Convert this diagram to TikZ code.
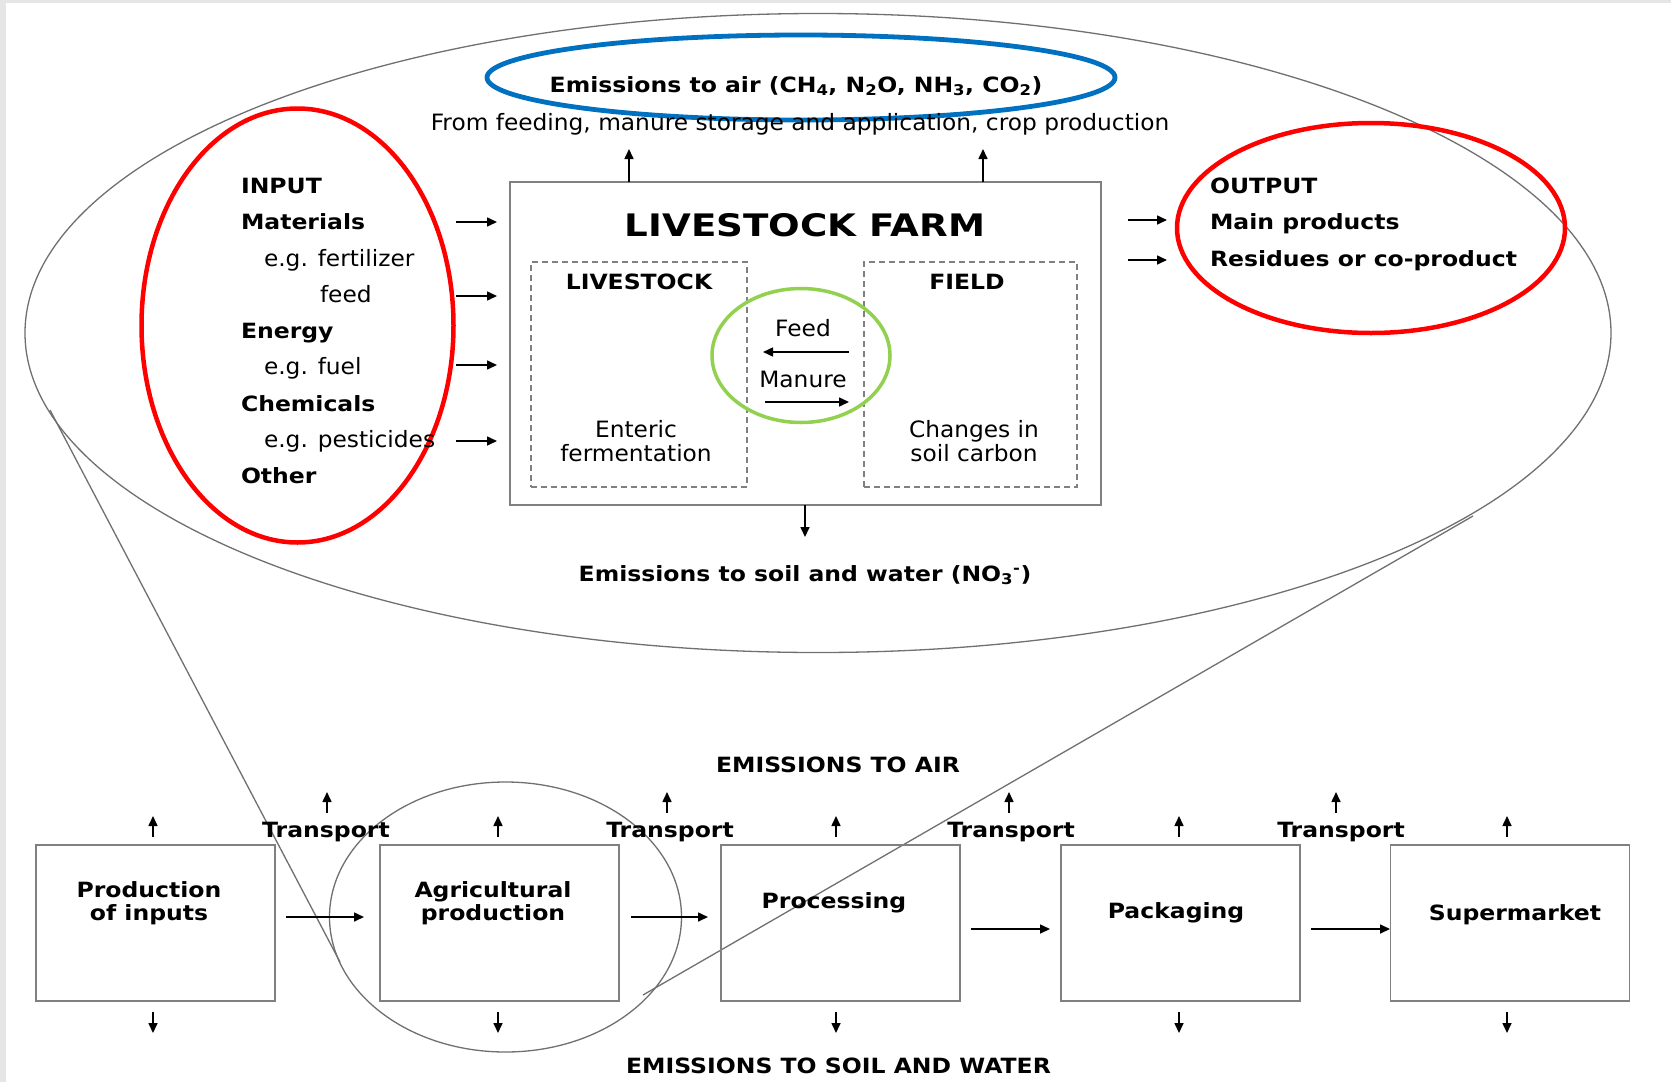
\documentclass[tikz,border=0pt]{standalone}
\usepackage{fontspec}
\setmainfont{DejaVu Sans}[FakeStretch=1.035]
\newfontfamily\bwide{DejaVu Sans}[FakeStretch=1.12]
\newfontfamily\bwider{DejaVu Sans}[FakeStretch=1.2]
\usetikzlibrary{arrows.meta}
\definecolor{bgframe}{HTML}{E6E6E6}
\definecolor{outl}{HTML}{707070}
\definecolor{boxgray}{HTML}{808080}
\definecolor{redc}{HTML}{FF0000}
\definecolor{bluec}{HTML}{0070C0}
\definecolor{greenc}{HTML}{92D050}
\newcommand\fsreg{\fontsize{22.5}{26}\selectfont}
\newcommand\fsbold{\bwide\fontsize{21}{25}\selectfont\bfseries}
\newcommand\fsbig{\bwider\fontsize{31}{36}\selectfont\bfseries}
\tikzset{
  txt/.style={inner sep=0pt, outer sep=0pt, anchor=base, font=\fsreg},
  btxt/.style={txt, font=\fsbold},
  ltxt/.style={txt, anchor=base west},
  lbtxt/.style={btxt, anchor=base west},
  procbox/.style={draw=boxgray, line width=1.6pt, inner sep=0pt, outer sep=0pt, minimum width=239pt, minimum height=156pt},
  dashbox/.style={draw=boxgray, line width=1.3pt, dash pattern=on 6pt off 4pt, inner sep=0pt, outer sep=0pt},
  arr/.style={line width=1.6pt, -{Triangle[length=10pt,width=9pt]}},
  outline/.style={draw=outl, line width=1.3pt},
}
\begin{document}
\begin{tikzpicture}[x=1pt,y=-1pt]
\fill[bgframe] (0,0) rectangle (1671,1082);
\fill[white] (6,3) rectangle (1671,1082);
\useasboundingbox (0,0) rectangle (1671,1082);

% big zoom ellipse and funnel
\draw[outline] (818,333) ellipse [x radius=793pt, y radius=319.5pt];
\draw[outline] (505.5,917) ellipse [x radius=176pt, y radius=135pt];
\coordinate (fl1) at (50,410);
\coordinate (fl2) at (340,962);
\coordinate (fr1) at (1473,516);
\coordinate (fr2) at (643,995);
\draw[outline] (fl1) -- (fl2);
\draw[outline] (fr1) -- (fr2);

% ===== top: livestock farm =====
\node[draw=boxgray, line width=1.6pt, inner sep=0pt, minimum width=591pt, minimum height=323pt] (farm) at (805.5,343.5) {};
\node[dashbox, minimum width=216pt, minimum height=225pt] (lsbox) at (639,374.5) {};
\node[dashbox, minimum width=213pt, minimum height=225pt] (fdbox) at (970.5,374.5) {};

\node[txt, font=\fsbig] (farmtitle) at (805,236) {LIVESTOCK FARM};
\node[btxt] (lstitle) at (639,289) {LIVESTOCK};
\node[btxt] (fdtitle) at (967,289) {FIELD};
\node[txt] (ent1) at (636,437) {Enteric};
\node[txt] (ent2) at (636,461) {fermentation};
\node[txt] (soil1) at (974,437) {Changes in};
\node[txt] (soil2) at (974,461) {soil carbon};
\node[txt] (feedlbl) at (803,336) {Feed};
\node[txt] (manlbl) at (803,387) {Manure};

% green circle
\draw[greenc, line width=3.5pt] (801,355.5) ellipse [x radius=89pt, y radius=67pt];
\coordinate (fa1) at (849,352);
\coordinate (fa2) at (763,352);
\coordinate (ma1) at (765,402);
\coordinate (ma2) at (849,402);
\draw[arr] (fa1) -- (fa2);
\draw[arr] (ma1) -- (ma2);

% emissions to air
\draw[bluec, line width=4.8pt] (801,77.5) ellipse [x radius=314pt, y radius=42.5pt];
\node[btxt] (airtxt) at (796,92) {Emissions to air (CH\textsubscript{4}, N\textsubscript{2}O, NH\textsubscript{3}, CO\textsubscript{2})};
\node[txt] (fromtxt) at (800,130) {From feeding, manure storage and application, crop production};
\coordinate (u1a) at (629,182);
\coordinate (u1b) at (629,149);
\coordinate (u2a) at (983,182);
\coordinate (u2b) at (983,149);
\draw[arr] (u1a) -- (u1b);
\draw[arr] (u2a) -- (u2b);

% emissions to soil
\coordinate (d1a) at (805,505);
\coordinate (d1b) at (805,537);
\draw[arr] (d1a) -- (d1b);
\node[btxt] (soiltxt) at (805,581) {Emissions to soil and water (NO\textsubscript{3}\textsuperscript{-})};

% input
\draw[redc, line width=4.5pt] (297.5,325.5) ellipse [x radius=156pt, y radius=217pt];
\node[lbtxt] (in0) at (241,193) {INPUT};
\node[lbtxt] (in1) at (241,229) {Materials};
\node[ltxt] (in2) at (264,266) {e.g. fertilizer};
\node[ltxt] (in3) at (320,302) {feed};
\node[lbtxt] (in4) at (241,338) {Energy};
\node[ltxt] (in5) at (264,374) {e.g. fuel};
\node[lbtxt] (in6) at (241,411) {Chemicals};
\node[ltxt] (in7) at (264,447) {e.g. pesticides};
\node[lbtxt] (in8) at (241,483) {Other};
\foreach \yy/\nm in {222/ia,296/ib,365/ic,441/id}{
  \coordinate (\nm s) at (456,\yy);
  \coordinate (\nm e) at (497,\yy);
  \draw[arr] (\nm s) -- (\nm e);
}

% output
\draw[redc, line width=4.5pt] (1371,228) ellipse [x radius=194pt, y radius=105pt];
\node[lbtxt] (out0) at (1210,193) {OUTPUT};
\node[lbtxt] (out1) at (1210,229) {Main products};
\node[lbtxt] (out2) at (1210,266) {Residues or co-product};
\foreach \yy/\nm in {220/oa,260/ob}{
  \coordinate (\nm s) at (1128,\yy);
  \coordinate (\nm e) at (1167,\yy);
  \draw[arr] (\nm s) -- (\nm e);
}

% ===== bottom chain =====
\node[procbox] (b1) at (155.5,923) {};
\node[procbox] (b2) at (499.5,923) {};
\node[procbox] (b3) at (840.5,923) {};
\node[procbox] (b4) at (1180.5,923) {};
\node[procbox] (b5) at (1510,923) {};

\node[btxt] (b1t1) at (149,897) {Production};
\node[btxt] (b1t2) at (149,920) {of inputs};
\node[btxt] (b2t1) at (493,897) {Agricultural};
\node[btxt] (b2t2) at (493,920) {production};
\node[btxt] (b3t) at (834,908) {Processing};
\node[btxt] (b4t) at (1176,918) {Packaging};
\node[btxt] (b5t) at (1515,920) {Supermarket};

\coordinate (h1s) at (286,917); \coordinate (h1e) at (364,917);
\coordinate (h2s) at (631,917); \coordinate (h2e) at (708,917);
\coordinate (h3s) at (971,929); \coordinate (h3e) at (1050,929);
\coordinate (h4s) at (1311,929); \coordinate (h4e) at (1390,929);
\draw[arr] (h1s) -- (h1e);
\draw[arr] (h2s) -- (h2e);
\draw[arr] (h3s) -- (h3e);
\draw[arr] (h4s) -- (h4e);

\foreach \xx/\nm in {153/ua,498/ub,836/uc,1179/ud,1507/ue}{
  \coordinate (\nm s) at (\xx,837);
  \coordinate (\nm e) at (\xx,816);
  \draw[arr] (\nm s) -- (\nm e);
  \coordinate (\nm ds) at (\xx,1012);
  \coordinate (\nm de) at (\xx,1033);
  \draw[arr] (\nm ds) -- (\nm de);
}
\foreach \xx/\nm in {327/ta,667/tb,1009/tc,1336/td}{
  \coordinate (\nm s) at (\xx,813);
  \coordinate (\nm e) at (\xx,792);
  \draw[arr] (\nm s) -- (\nm e);
}
\node[btxt] (tr1) at (326,837) {Transport};
\node[btxt] (tr2) at (670,837) {Transport};
\node[btxt] (tr3) at (1011,837) {Transport};
\node[btxt] (tr4) at (1341,837) {Transport};

\node[btxt] (emair) at (838,772) {EMISSIONS TO AIR};
\node[btxt] (emsoil) at (838.5,1073) {EMISSIONS TO SOIL AND WATER};
\end{tikzpicture}
\end{document}
